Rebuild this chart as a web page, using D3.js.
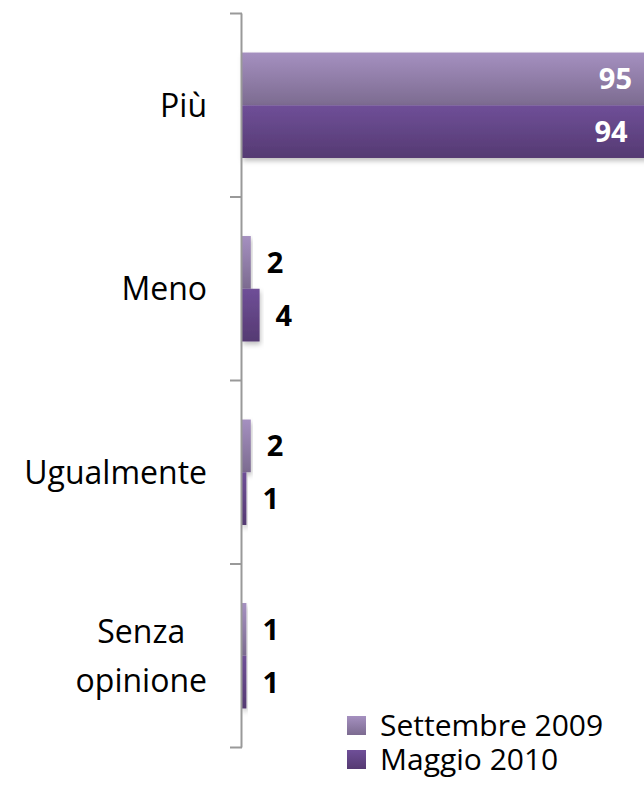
<!DOCTYPE html>
<html>
<head>
<meta charset="utf-8">
<script src="https://cdn.jsdelivr.net/npm/d3@7"></script>
<style>
  body { margin: 0; background: #fff; }
  text { font-family: "Open Sans", sans-serif; }
</style>
</head>
<body>
<div id="chart"></div>
<script>
// Horizontal grouped bars, two surveys.

var categories = ["Più", "Meno", "Ugualmente", "Senza opinione"];
var seriesNames = ["Settembre 2009", "Maggio 2010"];
var settembre = [95, 2, 2, 1];
var maggio = [94, 4, 1, 1];
var seriesValues = [settembre, maggio];

var W = 644, H = 785;

var svg = d3.select("#chart")
    .append("svg")
    .attr("width", W)
    .attr("height", H);

var defs = svg.append("defs");

// bar gradients (top -> bottom)
var grads = [
    ["g0", "#a590c0", "#7c6b90"],
    ["g1", "#6f4f98", "#553a72"]
];
grads.forEach(function (g) {
    var lg = defs.append("linearGradient")
        .attr("id", g[0])
        .attr("x1", 0).attr("y1", 0)
        .attr("x2", 0).attr("y2", 1);
    lg.append("stop").attr("offset", "0%").attr("stop-color", g[1]);
    lg.append("stop").attr("offset", "100%").attr("stop-color", g[2]);
});

var shadow = defs.append("filter")
    .attr("id", "shadow")
    .attr("x", "-10%").attr("y", "-10%")
    .attr("width", "130%").attr("height", "140%");
shadow.append("feDropShadow")
    .attr("dx", 1).attr("dy", 3)
    .attr("stdDeviation", 2.5)
    .attr("flood-color", "#000")
    .attr("flood-opacity", 0.25);

var x = d3.scaleLinear()
    .domain([0, 100])
    .range([242, 682]);

var y = d3.scaleBand()
    .domain(categories)
    .range([13.5, 747.5])
    .paddingInner(0);

var ySub = d3.scaleBand()
    .domain(seriesNames)
    .range([0, y.bandwidth()])
    .paddingInner(0)
    .paddingOuter(0.74);

// bars
var groups = svg.selectAll("g.cat")
    .data(categories)
    .enter()
    .append("g")
    .attr("class", "cat")
    .attr("transform", function (d) { return "translate(0," + y(d) + ")"; });

groups.each(function (cat, ci) {
    var g = d3.select(this);
    seriesNames.forEach(function (s, si) {
        var v = seriesValues[si][ci];
        g.append("rect")
            .attr("x", x(0))
            .attr("y", ySub(s))
            .attr("width", x(v) - x(0))
            .attr("height", ySub.bandwidth())
            .attr("fill", "url(#g" + si + ")")
            .attr("filter", "url(#shadow)");
    });
});

// value labels
groups.each(function (cat, ci) {
    var g = d3.select(this);
    seriesNames.forEach(function (s, si) {
        var v = seriesValues[si][ci];
        var inside = v > 50;
        g.append("text")
            .attr("x", inside ? x(v) - 28 : x(v) + 16)
            .attr("y", ySub(s) + ySub.bandwidth() / 2)
            .attr("dy", "0.36em")
            .attr("text-anchor", inside ? "end" : "start")
            .attr("font-size", 29)
            .attr("font-weight", "bold")
            .attr("fill", inside ? "#fff" : "#000")
            .text(v);
    });
});

// axis
var axis = d3.axisLeft(y)
    .tickSize(0)
    .tickFormat("");
var axisG = svg.append("g")
    .attr("transform", "translate(" + x(0) + ",0)")
    .call(axis);
axisG.select(".domain").remove();
axisG.append("line")
    .attr("x1", -0.5).attr("x2", -0.5)
    .attr("y1", y.range()[0]).attr("y2", y.range()[1])
    .attr("stroke", "#999").attr("stroke-width", 2);

var tickPos = categories.map(function (d) { return y(d); }).concat([y.range()[1]]);
axisG.selectAll("line.tk")
    .data(tickPos)
    .enter()
    .append("line")
    .attr("class", "tk")
    .attr("x1", -12).attr("x2", 0)
    .attr("y1", function (d) { return d; })
    .attr("y2", function (d) { return d; })
    .attr("stroke", "#999").attr("stroke-width", 2);

// category labels
var catLabels = svg.selectAll("text.catlab")
    .data(categories)
    .enter()
    .append("text")
    .attr("class", "catlab")
    .attr("font-size", 32)
    .attr("fill", "#000")
    .attr("text-anchor", "middle");

catLabels.each(function (d) {
    var t = d3.select(this);
    var words = d === "Senza opinione" ? ["Senza", "opinione"] : [d];
    var cy = y(d) + y.bandwidth() / 2;
    var lh = 49;
    words.forEach(function (w, i) {
        t.append("tspan")
            .attr("y", cy + (i - (words.length - 1) / 2) * lh)
            .attr("dy", "0.36em")
            .text(w);
    });
    // right-align block at x = 207, lines centered within it
    var wmax = d3.max(t.selectAll("tspan").nodes(), function (n) { return n.getComputedTextLength(); });
    t.selectAll("tspan").attr("x", 207 - wmax / 2);
});

// legend
var legend = svg.selectAll("g.leg")
    .data(seriesNames)
    .enter()
    .append("g")
    .attr("class", "leg")
    .attr("transform", function (d, i) { return "translate(347," + (716 + i * 34) + ")"; });

legend.append("rect")
    .attr("width", 19)
    .attr("height", 19)
    .attr("fill", function (d, i) { return "url(#g" + i + ")"; });

legend.append("text")
    .attr("x", 33)
    .attr("y", 9.5)
    .attr("dy", "0.36em")
    .attr("font-size", 30)
    .attr("fill", "#000")
    .text(function (d) { return d; });
</script>
</body>
</html>
